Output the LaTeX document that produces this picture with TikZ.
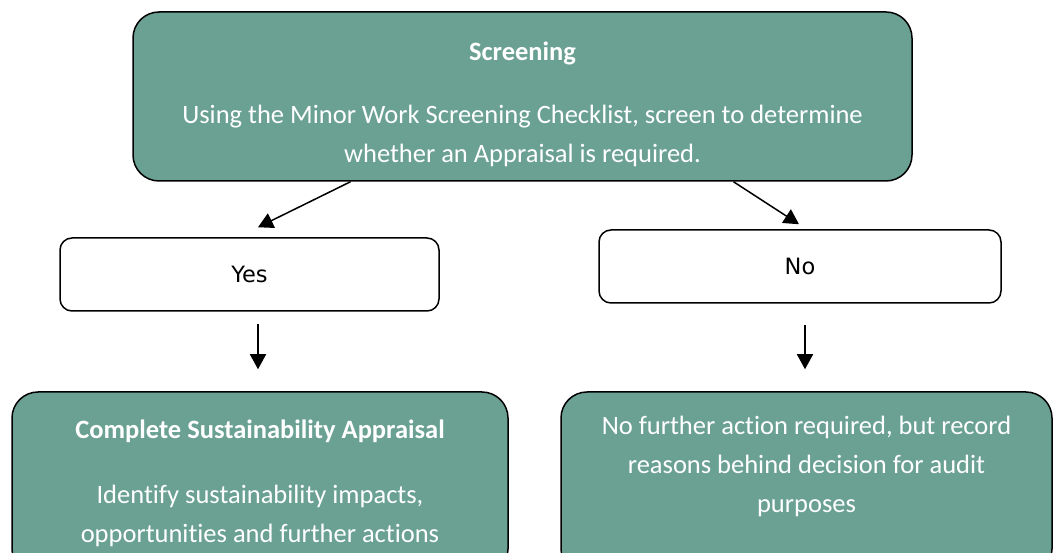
\documentclass[tikz,border=0pt]{standalone}
\usepackage{fontspec}
\setmainfont{Carlito}[Ligatures=NoCommon]
\newfontfamily\answerfont{DejaVu Sans}
\usetikzlibrary{arrows.meta}

\definecolor{stepgreen}{RGB}{106,161,147}

\begin{document}
\begin{tikzpicture}[x=1pt, y=-1pt, >={Triangle[width=16pt,length=15pt]}, line width=1.5pt]
    \tikzstyle{stage}=[rectangle, rounded corners=26pt, draw=black, fill=stepgreen,
                       text=white, align=center, font=\fontsize{26.5}{39}\selectfont]
    \tikzstyle{answer}=[rectangle, rounded corners=12pt, draw=black, fill=white,
                        minimum height=73pt, font=\answerfont\fontsize{22.5}{26}\selectfont]

    \useasboundingbox (0,0) rectangle (1053,553);

    \node[stage, minimum width=779pt, minimum height=169pt] (screen) at (522.5,96.5)
        {\rule{0pt}{34pt}\textbf{Screening}\\[24pt]
         Using the Minor Work Screening Checklist, screen to determine\\
         whether an Appraisal is required.};

    \node[answer, minimum width=379pt] (yes) at (249.5,274.5) {Yes};
    \node[answer, minimum width=402pt] (no) at (800,266.5) {No};

    \node[stage, minimum width=496pt, minimum height=183pt] (appr) at (260,483.5)
        {\textbf{Complete Sustainability Appraisal}\\[26pt]
         Identify sustainability impacts,\\
         opportunities and further actions};
    \node[stage, minimum width=491pt, minimum height=183pt] (noact) at (806.5,483.5)
        {No further action required, but record\\
         reasons behind decision for audit\\
         purposes\\ \mbox{}};

    % decision branches
    \draw[->] ([xshift=-172pt]screen.south) -- ([xshift=8.5pt,yshift=10pt]yes.north);
    \draw[->] ([xshift=211pt]screen.south) -- ([xshift=-1pt,yshift=5pt]no.north);

    % follow-on steps
    \draw[->, shorten <=12pt, shorten >=22pt] ([xshift=8.5pt]yes.south) -- ([xshift=-2pt]appr.north);
    \draw[->, shorten <=21pt, shorten >=22pt] ([xshift=5pt]no.south) -- ([xshift=-1.5pt]noact.north);

\end{tikzpicture}
\end{document}
